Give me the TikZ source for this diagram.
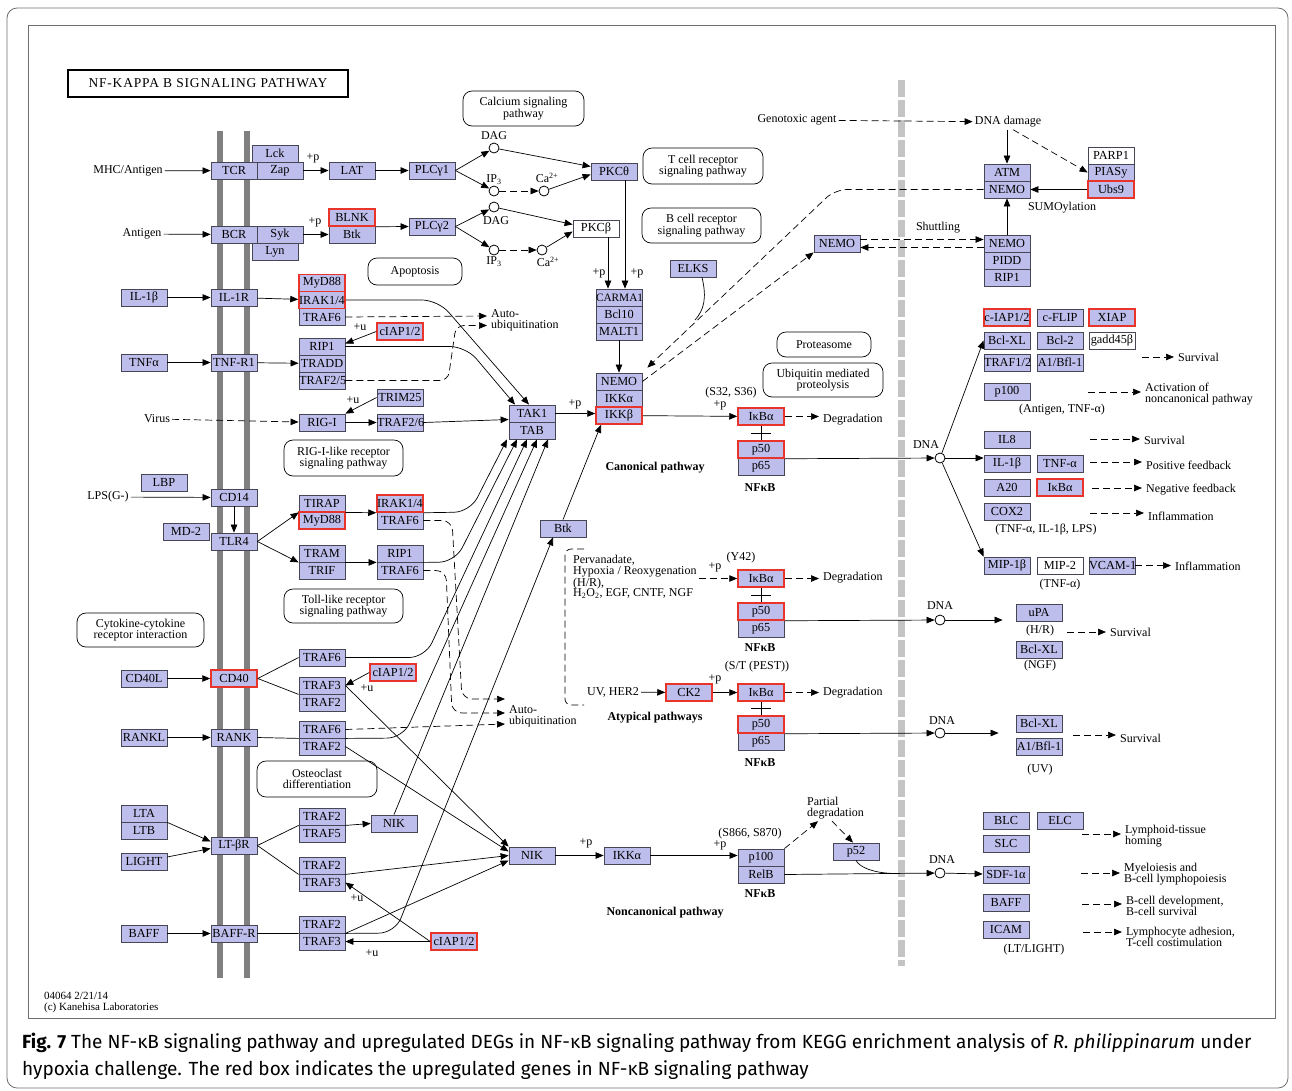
\documentclass[tikz,border=0pt]{standalone}
\usepackage{fontspec}
\setmainfont{Liberation Serif}
\newfontfamily\capfont{Fira Sans}
\newfontfamily\titlefont[LetterSpace=6]{Liberation Serif}
\usetikzlibrary{shapes,arrows.meta,positioning,calc}
\definecolor{genefill}{RGB}{190,190,236}
\definecolor{geneline}{RGB}{70,70,85}
\definecolor{upred}{RGB}{232,52,42}
\definecolor{membrane}{RGB}{128,128,128}
\definecolor{nucline}{RGB}{196,196,196}
\definecolor{frameline}{RGB}{110,110,110}

\begin{document}
\begin{tikzpicture}[
  x=1pt,y=-1pt,
  gene/.style={rectangle,draw=geneline,fill=genefill,line width=0.8pt,text width=46pt,align=center,minimum height=17pt,inner sep=0pt,font=\fontsize{12.3}{12}\selectfont,execute at begin node={\exhyphenpenalty=10000\hyphenpenalty=10000\relax}},
  upgene/.style={gene,draw=upred,line width=1.5pt},
  nogene/.style={gene,fill=white},
  cmpd/.style={circle,draw,fill=white,line width=0.8pt,minimum size=10pt,inner sep=0pt},
  pmap/.style={rectangle,rounded corners=9pt,draw,line width=0.7pt,align=center,inner sep=0pt,font=\fontsize{12}{11.5}\selectfont},
  lbl/.style={font=\fontsize{12}{11}\selectfont,align=center,inner sep=2pt},
  outc/.style={lbl,anchor=west,align=left,inner xsep=4pt},
  pwlabel/.style={font=\bfseries\fontsize{12}{12}\selectfont,inner sep=0pt},
  arrow/.style={-{Triangle[length=8pt,width=6.5pt]},line width=0.7pt},
  dasharrow/.style={arrow,dash pattern=on 7pt off 4pt},
  link/.style={line width=0.7pt},
  font=\fontsize{12}{11}\selectfont
]
\useasboundingbox (0,0) rectangle (1292,1090);
\draw[frameline,line width=0.8pt,rounded corners=10pt] (7,8) rectangle (1288,1088);
\draw[frameline,line width=0.6pt] (28,25) rectangle (1275,1018);
\draw[membrane,line width=5.5pt] (220,131) -- (220,978);
\draw[membrane,line width=5.5pt] (247,131) -- (247,978);
\draw[nucline,line width=7pt,dash pattern=on 17pt off 3pt] (901,80) -- (901,966);

\node[draw,line width=1.8pt,minimum width=280pt,minimum height=27pt,inner sep=0pt,font=\titlefont\fontsize{13.5}{13.5}\selectfont] (title) at (208,83.5) {NF-KAPPA B SIGNALING PATHWAY};

\node[pmap,minimum width=121pt,minimum height=35pt] (mapca) at (523.5,108.5) {Calcium signaling\\pathway};
\node[pmap,minimum width=120pt,minimum height=36pt] (maptcr) at (703,166) {T cell receptor\\signaling pathway};
\node[pmap,minimum width=119pt,minimum height=35pt] (mapbcr) at (701.5,225.5) {B cell receptor\\signaling pathway};
\node[pmap,minimum width=94pt,minimum height=27pt] (mapapo) at (415,271.5) {Apoptosis};
\node[pmap,minimum width=119pt,minimum height=36pt] (maprig) at (343.5,458) {RIG-I-like receptor\\signaling pathway};
\node[pmap,minimum width=119pt,minimum height=34pt] (maptoll) at (343.5,606) {Toll-like receptor\\signaling pathway};
\node[pmap,minimum width=127pt,minimum height=34pt] (mapcyt) at (140.5,630) {Cytokine-cytokine\\receptor interaction};
\node[pmap,minimum width=120pt,minimum height=36pt] (mapost) at (317,779) {Osteoclast\\differentiation};
\node[pmap,minimum width=94pt,minimum height=25pt] (mapprot) at (824,344.5) {Proteasome};
\node[pmap,minimum width=120pt,minimum height=34pt] (mapubi) at (823,380) {Ubiquitin mediated\\proteolysis};

\node[gene] (tcr) at (234,170.5) {TCR};
\node[gene] (lck) at (275,153.5) {Lck};
\node[gene] (zap) at (280,170.5) {Zap};
\node[gene] (bcr) at (234,234.5) {BCR};
\node[gene] (syk) at (280,234.5) {Syk};
\node[gene] (lyn) at (275,251.5) {Lyn};
\node[gene] (lat) at (352,170.5) {LAT};
\node[gene] (plcga) at (432,170.5) {PLCγ1};
\node[gene] (btka) at (352,234.5) {Btk};
\node[upgene] (blnk) at (352,217.5) {BLNK};
\node[gene] (plcgb) at (432,226.5) {PLCγ2};

\node[gene] (il1b) at (144,297.5) {IL-1β};
\node[gene] (il1r) at (234,297.5) {IL-1R};
\node[gene] (traf6a) at (322,317) {TRAF6};
\node[upgene] (myd88a) at (322,283) {MyD88};
\node[upgene] (irak14a) at (322,300) {IRAK1/4};
\node[gene] (tnfa) at (144,362.5) {TNFα};
\node[gene] (tnfr1) at (234,362.5) {TNF-R1};
\node[gene] (rip1a) at (322,346.5) {RIP1};
\node[gene] (tradd) at (322,363.5) {TRADD};
\node[gene] (traf25) at (322,380.5) {TRAF2/5};
\node[upgene] (ciapa) at (400,331.5) {cIAP1/2};
\node[gene] (rigi) at (322,422.5) {RIG-I};
\node[gene] (trim25) at (400,397.5) {TRIM25};
\node[gene] (traf26) at (400,422.5) {TRAF2/6};

\node[gene] (lbp) at (164,482.5) {LBP};
\node[gene] (cd14) at (234,497.5) {CD14};
\node[gene] (md2) at (186,531.5) {MD-2};
\node[gene] (tlr4) at (234,541.5) {TLR4};
\node[gene] (tirap) at (322,503.5) {TIRAP};
\node[upgene] (myd88b) at (322,520.5) {MyD88};
\node[gene] (traf6b) at (400,520.5) {TRAF6};
\node[upgene] (irak14b) at (400,503.5) {IRAK1/4};
\node[gene] (tram) at (322,553.5) {TRAM};
\node[gene] (trif) at (322,570.5) {TRIF};
\node[gene] (rip1b) at (400,553.5) {RIP1};
\node[gene] (traf6c) at (400,570.5) {TRAF6};

\node[gene] (cd40l) at (144,678.5) {CD40L};
\node[upgene] (cd40) at (234,678.5) {CD40};
\node[gene] (traf6d) at (322,657.5) {TRAF6};
\node[gene] (traf3a) at (322,685.5) {TRAF3};
\node[gene] (traf2a) at (322,702.5) {TRAF2};
\node[upgene] (ciapb) at (393,672.5) {cIAP1/2};
\node[gene] (rankl) at (144,737.5) {RANKL};
\node[gene] (rank) at (234,737.5) {RANK};
\node[gene] (traf6e) at (322,729.5) {TRAF6};
\node[gene] (traf2b) at (322,746.5) {TRAF2};
\node[gene] (lta) at (144,813.5) {LTA};
\node[gene] (ltb) at (144,830.5) {LTB};
\node[gene] (light) at (144,861.5) {LIGHT};
\node[gene] (ltbr) at (234,845.5) {LT-βR};
\node[gene] (traf2c) at (322,816.5) {TRAF2};
\node[gene] (traf5) at (322,833.5) {TRAF5};
\node[gene] (nika) at (394,823.5) {NIK};
\node[gene] (traf2d) at (322,865.5) {TRAF2};
\node[gene] (traf3b) at (322,882.5) {TRAF3};
\node[gene] (baff) at (144,933.5) {BAFF};
\node[gene] (baffr) at (234,933.5) {BAFF-R};
\node[gene] (traf2e) at (322,924.5) {TRAF2};
\node[gene] (traf3c) at (322,941.5) {TRAF3};
\node[upgene] (ciapc) at (454,941.5) {cIAP1/2};

\node[gene] (pkct) at (614,171.5) {PKCθ};
\node[nogene] (pkcb) at (596,228.5) {PKCβ};
\node[gene,font=\fontsize{11.3}{12}\selectfont] (carma1) at (619,297.5) {CARMA1};
\node[gene] (bcl10) at (619,314.5) {Bcl10};
\node[gene] (malt1) at (619,331.5) {MALT1};
\node[gene] (elks) at (693,268.5) {ELKS};
\node[gene] (nemoa) at (619,381.5) {NEMO};
\node[gene] (ikkaa) at (619,398.5) {IKKα};
\node[upgene] (ikkb) at (619,415.5) {IKKβ};
\node[gene] (tak1) at (532,413.5) {TAK1};
\node[gene] (tab) at (532,430.5) {TAB};
\node[gene] (btkb) at (563,528.5) {Btk};
\node[gene] (nemob) at (837,243.5) {NEMO};

\node[gene] (p65a) at (761,466.5) {p65};
\node[upgene] (p50a) at (761,449.5) {p50};
\node[upgene] (ikbaa) at (761,416.5) {IκBα};
\node[gene] (p65b) at (761,628.5) {p65};
\node[upgene] (p50b) at (761,611.5) {p50};
\node[upgene] (ikbab) at (761,578.5) {IκBα};
\node[gene] (p65c) at (761,741.5) {p65};
\node[upgene] (p50c) at (761,724.5) {p50};
\node[upgene] (ikbac) at (761,692.5) {IκBα};
\node[upgene] (ck2) at (689,692.5) {CK2};
\node[gene] (nikb) at (532,855.5) {NIK};
\node[gene] (ikkab) at (627,855.5) {IKKα};
\node[gene] (p100a) at (761,857.5) {p100};
\node[gene] (relb) at (761,874.5) {RelB};
\node[gene] (p52) at (856,851.5) {p52};

\node[gene] (atm) at (1007,172.5) {ATM};
\node[gene] (nemoc) at (1007,189.5) {NEMO};
\node[nogene] (parp1) at (1111,155.5) {PARP1};
\node[gene] (piasy) at (1111,172.5) {PIASy};
\node[upgene] (ubs9) at (1111,189.5) {Ubs9};
\node[gene] (nemod) at (1007,243.5) {NEMO};
\node[gene] (pidd) at (1007,260.5) {PIDD};
\node[gene] (rip1c) at (1007,277.5) {RIP1};
\node[upgene] (ciapd) at (1007,317.5) {c-IAP1/2};
\node[gene] (cflip) at (1060,317.5) {c-FLIP};
\node[upgene] (xiap) at (1112,317.5) {XIAP};
\node[gene] (bclxla) at (1007,340.5) {Bcl-XL};
\node[gene] (bcl2) at (1060,340.5) {Bcl-2};
\node[nogene] (gadd) at (1112,340.5) {gadd45β};
\node[gene] (traf12) at (1007,362.5) {TRAF1/2};
\node[gene] (a1a) at (1060,362.5) {A1/Bfl-1};
\node[gene] (p100b) at (1007,391.5) {p100};
\node[gene] (il8) at (1007,439.5) {IL8};
\node[gene] (il1bb) at (1007,463.5) {IL-1β};
\node[gene] (tnfab) at (1060,463.5) {TNF-α};
\node[gene] (a20) at (1007,487.5) {A20};
\node[upgene] (ikbad) at (1060,487.5) {IκBα};
\node[gene] (cox2) at (1007,511.5) {COX2};
\node[gene] (mip1b) at (1007,565.5) {MIP-1β};
\node[nogene] (mip2) at (1060,565.5) {MIP-2};
\node[gene] (vcam1) at (1112,565.5) {VCAM-1};
\node[gene] (upa) at (1039,612.5) {uPA};
\node[gene] (bclxlb) at (1039,649.5) {Bcl-XL};
\node[gene] (bclxlc) at (1039,723.5) {Bcl-XL};
\node[gene] (a1b) at (1039,746.5) {A1/Bfl-1};
\node[gene] (blc) at (1006,820.5) {BLC};
\node[gene] (elc) at (1060,820.5) {ELC};
\node[gene] (slc) at (1006,843.5) {SLC};
\node[gene] (sdf1) at (1006,874.5) {SDF-1α};
\node[gene] (baffb) at (1006,902.5) {BAFF};
\node[gene] (icam) at (1006,929.5) {ICAM};

\node[cmpd] (daga) at (494,148) {};
\node[cmpd] (ip3a) at (494,191) {};
\node[cmpd] (caa) at (544,191) {};
\node[cmpd] (dagb) at (494,207) {};
\node[cmpd] (ip3b) at (494,250) {};
\node[cmpd] (cab) at (542,250) {};
\node[cmpd] (dnaa) at (940,458) {};
\node[cmpd] (dnab) at (940,620) {};
\node[cmpd] (dnac) at (940,733) {};
\node[cmpd] (dnad) at (940,873) {};
\node[lbl] (dagal) at (494,136) {DAG};
\node[lbl] (ip3al) at (494,180) {IP\textsubscript{3}};
\node[lbl] (caal) at (547,178) {Ca\textsuperscript{2+}};
\node[lbl] (dagbl) at (496,221) {DAG};
\node[lbl] (ip3bl) at (494,262) {IP\textsubscript{3}};
\node[lbl] (cabl) at (548,262) {Ca\textsuperscript{2+}};
\node[lbl] (dnaal) at (926,445) {DNA};
\node[lbl] (dnabl) at (940,606) {DNA};
\node[lbl] (dnacl) at (942,721) {DNA};
\node[lbl] (dnadl) at (942,860) {DNA};

\node[lbl] (mhc) at (128,171) {MHC/Antigen};
\node[lbl] (antigen) at (142,234) {Antigen};
\node[lbl] (virus) at (157,419) {Virus};
\node[lbl] (lps) at (108,497) {LPS(G-)};
\node[lbl] (geno) at (797,120) {Genotoxic agent};
\node[lbl] (dnadmg) at (1008,122) {DNA damage};
\node[lbl] (sumo) at (1062,208) {SUMOylation};
\node[lbl] (shut) at (938,228) {Shuttling};
\node[lbl] (nota) at (1062,410) {(Antigen, TNF-α)};
\node[lbl] (notb) at (1046,530) {(TNF-α, IL-1β, LPS)};
\node[lbl] (notc) at (1060,585) {(TNF-α)};
\node[lbl] (notd) at (1040,631) {(H/R)};
\node[lbl] (note) at (1040,666) {(NGF)};
\node[lbl] (notf) at (1040,770) {(UV)};
\node[lbl] (notg) at (1034,950) {(LT/LIGHT)};
\node[outc] (outa) at (1174,357) {Survival};
\node[outc] (outb) at (1141,394) {Activation of\\noncanonical pathway};
\node[outc] (outc) at (1140,440) {Survival};
\node[outc] (outd) at (1142,465) {Positive feedback};
\node[outc] (oute) at (1142,490) {Negative feedback};
\node[outc] (outf) at (1144,516) {Inflammation};
\node[outc] (outg) at (1171,566) {Inflammation};
\node[outc] (outh) at (1106,632) {Survival};
\node[outc] (outi) at (1116,738) {Survival};
\node[outc] (outj) at (1121,836) {Lymphoid-tissue\\homing};
\node[outc] (outk) at (1120,874) {Myeloiesis and\\B-cell lymphopoiesis};
\node[outc] (outl) at (1122,906) {B-cell development,\\B-cell survival};
\node[outc] (outm) at (1122,937) {Lymphocyte adhesion,\\T-cell costimulation};
\node[outc] (dega) at (819,420) {Degradation};
\node[outc] (degb) at (819,578) {Degradation};
\node[outc] (degc) at (819,693) {Degradation};
\node[outc] (autoa) at (487,320.5) {Auto-\\ubiquitination};
\node[outc] (autob) at (505,716) {Auto-\\ubiquitination};
\node[lbl,anchor=north west,align=left,font=\fontsize{12}{10.7}\selectfont] (perv) at (571,553) {Pervanadate,\\Hypoxia / Reoxygenation\\(H/R),\\H\textsubscript{2}O\textsubscript{2}, EGF, CNTF, NGF};
\node[lbl] (uvher) at (613,692) {UV, HER2};
\node[lbl,anchor=west,align=left] (partdeg) at (805,808) {Partial\\degradation};
\node[lbl,anchor=west,align=left,font=\fontsize{11}{11}\selectfont] (copy) at (42,1002) {04064 2/21/14\\(c) Kanehisa Laboratories};

\node[pwlabel] (canon) at (655,468) {Canonical pathway};
\node[pwlabel] (atyp) at (655,718) {Atypical pathways};
\node[pwlabel] (noncan) at (665,913) {Noncanonical pathway};
\node[pwlabel] (nfkba) at (760,488) {NFκB};
\node[pwlabel] (nfkbb) at (760,648) {NFκB};
\node[pwlabel] (nfkbc) at (760,763) {NFκB};
\node[pwlabel] (nfkbd) at (760,894) {NFκB};

\node[lbl] (pa) at (313,158) {+p};
\node[lbl] (pb) at (315,222) {+p};
\node[lbl] (pc) at (599,273) {+p};
\node[lbl] (pd) at (637,273) {+p};
\node[lbl] (pe) at (575,404) {+p};
\node[lbl] (pf) at (720,405) {+p};
\node[lbl] (pg) at (715,567) {+p};
\node[lbl] (ph) at (715,679) {+p};
\node[lbl] (pi) at (586,843) {+p};
\node[lbl] (pj) at (720,845) {+p};
\node[lbl] (ua) at (360,327) {+u};
\node[lbl] (ub) at (353,400) {+u};
\node[lbl] (uc) at (367,688) {+u};
\node[lbl] (ud) at (357,898) {+u};
\node[lbl] (ue) at (372,953) {+u};
\node[lbl] (sitea) at (731,393) {(S32, S36)};
\node[lbl] (siteb) at (741,558) {(Y42)};
\node[lbl] (sitec) at (757,667) {(S/T (PEST))};
\node[lbl] (sited) at (750,834) {(S866, S870)};

\coordinate (sa) at (1142,357);
\coordinate (sb) at (1088,392);
\coordinate (sc) at (1090,439);
\coordinate (sd) at (1090,462);
\coordinate (se) at (1092,488);
\coordinate (sf) at (1090,513);
\coordinate (sh) at (1067,632);
\coordinate (si) at (1073,735);
\coordinate (sj) at (1082,834);
\coordinate (sk) at (1081,873);
\coordinate (sl) at (1082,904);
\coordinate (sm) at (1083,932);
\coordinate (elksj) at (695,320);

\draw[arrow] (mhc) -- (tcr);
\draw[arrow] (antigen) -- (bcr);
\draw[arrow] (il1b) -- (il1r);
\draw[arrow] (tnfa) -- (tnfr1);
\draw[dasharrow] (virus) -- (rigi);
\draw[arrow] (lps) -- (cd14);
\draw[arrow] (cd40l) -- (cd40);
\draw[arrow] (rankl) -- (rank);
\draw[arrow] (lta.south east) -- ([yshift=4pt]ltbr.west);
\draw[arrow] (light) -- ([yshift=-3pt]ltbr.west);
\draw[arrow] (baff) -- (baffr);

\draw[arrow] (zap) -- (lat);
\draw[arrow] (lat) -- (plcga);
\draw[arrow] (syk) -- (btka);
\draw[arrow] (blnk.south east) -- (plcgb.west);
\draw[arrow] (plcga.east) -- (daga);
\draw[arrow] (plcga.east) -- (ip3a);
\draw[arrow] (daga) -- ([yshift=5pt]pkct.west);
\draw[dasharrow] (ip3a) -- (caa);
\draw[arrow] (caa) -- ([yshift=-3pt]pkct.west);
\draw[arrow] (plcgb.east) -- (dagb);
\draw[arrow] (plcgb.east) -- (ip3b);
\draw[arrow] (dagb) -- ([yshift=4pt]pkcb.west);
\draw[dasharrow] (ip3b) -- (cab);
\draw[arrow] (cab) -- ([yshift=-3pt]pkcb.west);
\draw[arrow] ([xshift=11pt]pkct.south) -- ([xshift=6pt]carma1.north);
\draw[arrow] ([xshift=12pt]pkcb.south) -- ([xshift=-11pt]carma1.north);
\draw[arrow] (malt1) -- (nemoa);
\draw[link] ([xshift=9pt]elks.south) .. controls (707,298) and (704,310) .. (elksj);

\draw[arrow] (il1r) -- (irak14a);
\draw[arrow] (tnfr1) -- (tradd);
\draw[arrow] (ciapa.west) -- ([yshift=3pt]rip1a.east);
\draw[dasharrow] (traf6a.east) -- ([yshift=4.5pt]autoa.west);
\draw[dasharrow,rounded corners=8pt] (traf25.east) -- (448,380.5) -- (456,325.5) -- ([yshift=-5pt]autoa.west);
\draw[arrow,rounded corners=16pt] (irak14a.east) -- (438,300) -- ([xshift=-3pt]tak1.north);
\draw[arrow,rounded corners=16pt] (rip1a.east) -- (466,346.5) -- ([xshift=-17pt]tak1.north);
\draw[arrow] (trim25.west) -- (rigi.north east);
\draw[arrow] (rigi) -- (traf26);
\draw[arrow] (traf26.east) -- ([yshift=-6pt]tak1.west);
\draw[arrow] (tak1.east) -- (tak1.east -| ikkb.west);
\draw[arrow] (btkb.north) -- ([xshift=-18pt]ikkb.south);
\draw[arrow] (ikkb) -- (ikbaa);

\draw[arrow] (cd14) -- (tlr4);
\draw[arrow] (tlr4.east) -- (tirap.south west);
\draw[arrow] (tlr4.east) -- (tram.south west);
\draw[arrow] (tirap.south east) -- (irak14b.south west);
\draw[arrow] (tram.south east) -- (rip1b.south west);
\draw[arrow,rounded corners=16pt] (irak14b.south east) -- (470,512) -- ([xshift=-25pt]tab.south);
\draw[arrow,rounded corners=16pt] (rip1b.south east) -- (455,562) -- ([xshift=-15pt]tab.south);
\draw[dasharrow,rounded corners=10pt] (traf6b.east) -- (452,520.5) -- (462,699) -- ([yshift=17pt]autob.west);
\draw[dasharrow,rounded corners=10pt] (traf6c.east) -- (446,570.5) -- (452,713) -- ([yshift=3pt]autob.west);

\draw[link] (cd40.east) -- (traf6d.west);
\draw[link] (cd40.east) -- (traf3a.south west);
\draw[arrow] (ciapb.west) -- (traf3a.east);
\draw[arrow,rounded corners=16pt] (traf6d.east) -- (425,657.5) -- ([xshift=-5pt]tab.south);
\draw[arrow] (traf3a.east) -- (nikb.north west);

\draw[link] (rank.east) -- (traf6e.south west);
\draw[dasharrow] (traf6e.east) -- ([yshift=-8pt]autob.west);
\draw[arrow,rounded corners=16pt] (traf6e.south east) -- (403,738) -- ([xshift=5pt]tab.south);
\draw[arrow] (traf2b.east) -- ([yshift=4pt]nikb.west);

\draw[link] (ltbr.east) -- (traf2c.south west);
\draw[link] (ltbr.east) -- (traf2d.south west);
\draw[arrow] (traf2c.south east) -- (nika.west);
\draw[arrow] (nika.north) -- ([xshift=16pt]tab.south);
\draw[arrow] (traf2d.south east) -- (nikb.west);

\draw[link] (baffr.east) -- (traf2e.south west);
\draw[arrow] (traf2e.south east) -- ([yshift=-5pt]nikb.west);
\draw[arrow,rounded corners=16pt] (traf2e.south east) -- (395,933) -- ([xshift=-10pt]btkb.south);
\draw[arrow] (ciapc.west) -- (traf3c.east);
\draw[arrow] (ciapc.west) -- (traf3b.east);

\draw[arrow] (nikb) -- (ikkab);
\draw[arrow] (ikkab.east) -- (ikkab.east -| p100a.west);
\draw[dasharrow] (p100a.north east) -- ([xshift=13pt]partdeg.south west);
\draw[dasharrow] ([xshift=27pt]partdeg.south west) -- ([xshift=-3pt]p52.north);
\draw[arrow] (relb.east) -- (dnad);
\draw[link] (p52.south) .. controls (860,868) and (875,873) .. ($(relb.east)!0.7!(dnad)$);
\draw[arrow] (dnad) -- (sdf1);

\draw[dasharrow] (ikbaa.east) -- (ikbaa.east -| dega.west);
\draw[link] (ikbaa.south) -- (p50a.north);
\draw[link] ([xshift=-10pt]$(ikbaa.south)!0.5!(p50a.north)$) -- ++(20,0);
\draw[arrow] (p50a.south east) -- (dnaa);
\draw[arrow] (dnaa) -- (bclxla.west);
\draw[arrow] (dnaa) -- (dnaa -| il1bb.west);
\draw[arrow] (dnaa) -- (mip1b.north west);

\draw[dasharrow] (perv.east |- ikbab.west) -- (ikbab.west);
\draw[dash pattern=on 7pt off 4pt,line width=0.7pt,rounded corners=6pt] (584,549) -- (565,549) -- (565,705) -- (584,705);
\draw[arrow] (uvher) -- (ck2);
\draw[arrow] (ck2) -- (ikbac);
\draw[dasharrow] (ikbab.east) -- (ikbab.east -| degb.west);
\draw[dasharrow] (ikbac.east) -- (ikbac.east -| degc.west);
\draw[link] (ikbab.south) -- (p50b.north);
\draw[link] ([xshift=-10pt]$(ikbab.south)!0.5!(p50b.north)$) -- ++(20,0);
\draw[link] (ikbac.south) -- (p50c.north);
\draw[link] ([xshift=-10pt]$(ikbac.south)!0.5!(p50c.north)$) -- ++(20,0);
\draw[arrow] (p50b.south east) -- (dnab);
\draw[arrow] (p50c.south east) -- (dnac);
\draw[arrow,shorten >=13pt] (dnab) -- (dnab -| upa.west);
\draw[arrow,shorten >=17pt] (dnac) -- (dnac -| bclxlc.west);

\draw[dasharrow] (geno) -- (dnadmg);
\draw[arrow] (atm.north |- dnadmg.south) -- (atm.north);
\draw[dasharrow] ([xshift=5pt]dnadmg.south) -- (piasy.west);
\draw[arrow] (ubs9) -- (nemoc);
\draw[arrow] (nemod) -- (nemoc);
\draw[dasharrow,rounded corners=12pt] (nemoc.west) -- (835,189.5) -- ([shift={(5pt,5pt)}]nemoa.north east);
\draw[dasharrow] (nemoa.east) -- (nemob.south west);
\draw[dasharrow] ([yshift=4pt]nemob.east) -- ([yshift=4pt]nemod.west);
\draw[dasharrow] ([yshift=-4pt]nemod.west) -- ([yshift=-4pt]nemob.east);

\draw[dasharrow] (sa) -- (sa -| outa.west);
\draw[dasharrow] (sb) -- (sb -| outb.west);
\draw[dasharrow] (sc) -- (sc -| outc.west);
\draw[dasharrow] (sd) -- (sd -| outd.west);
\draw[dasharrow] (se) -- (se -| oute.west);
\draw[dasharrow] (sf) -- (sf -| outf.west);
\draw[dasharrow] (vcam1.east) -- (vcam1.east -| outg.west);
\draw[dasharrow] (sh) -- (sh -| outh.west);
\draw[dasharrow] (si) -- (si -| outi.west);
\draw[dasharrow] (sj) -- (sj -| outj.west);
\draw[dasharrow] (sk) -- (sk -| outk.west);
\draw[dasharrow] (sl) -- (sl -| outl.west);
\draw[dasharrow] (sm) -- (sm -| outm.west);

\node[anchor=west,inner sep=0pt,font=\capfont\fontsize{19}{22}\selectfont] (capa) at (22,1043) {\textbf{Fig. 7} The NF-κB signaling pathway and upregulated DEGs in NF-κB signaling pathway from KEGG enrichment analysis of \textit{R. philippinarum} under};
\node[anchor=west,inner sep=0pt,font=\capfont\fontsize{19}{22}\selectfont] (capb) at (22,1070) {hypoxia challenge. The red box indicates the upregulated genes in NF-κB signaling pathway};
\end{tikzpicture}
\end{document}
